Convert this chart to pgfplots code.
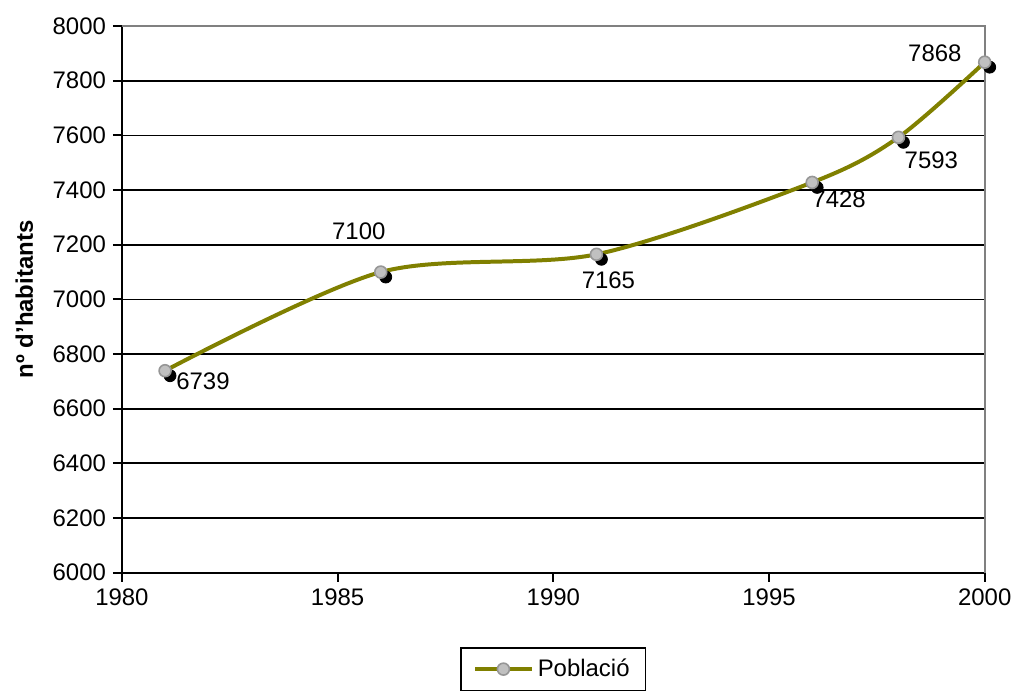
\documentclass[border={4.5pt 2pt 0pt 5.5pt}]{standalone}
\usepackage{fontspec}
\setmainfont{Liberation Sans}
\usepackage{pgfplots}
\usepackage{pgfplotstable}
\pgfplotsset{compat=1.18}
\definecolor{olivel}{RGB}{128,128,0}
\definecolor{markgray}{RGB}{192,192,192}
\definecolor{markedge}{RGB}{150,150,150}

% year, population, label offset (pt)
\pgfplotstableread{
year pop dx dy
1981 6739 19 -5.5
1986 7100 -11 20.5
1991 7165 6 -13
1996 7428 13.5 -8.5
1998 7593 16.5 -11.5
2000 7868 -25 4.5
}\poblacio

\begin{document}
\begin{tikzpicture}
\begin{axis}[
  scale only axis,
  width=432.5pt, height=274pt,
  xmin=1980, xmax=2000, ymin=6000, ymax=8000,
  xtick={1980,1985,...,2000},
  ytick={6000,6200,...,8000},
  axis x line*=bottom, axis y line*=left,
  axis line style={black, line width=1pt},
  tick align=outside, major tick length=4.5pt,
  tick style={black, line width=1pt},
  ymajorgrids=true,
  grid style={black, line width=0.9pt},
  font=\fontsize{12}{14.4}\selectfont,
  /pgf/number format/assume math mode=true,
  xticklabel style={/pgf/number format/1000 sep={}},
  yticklabel style={/pgf/number format/1000 sep={}},
  ylabel={\bfseries nº d'habitants},
  ylabel style={at={(axis description cs:-0.113,0.5)}, anchor=center},
  legend style={at={(axis description cs:0.5,-0.136)}, anchor=north,
    draw=black, line width=0.8pt, font=\fontsize{12}{14.4}\selectfont,
    inner xsep=6pt, inner ysep=3.5pt},
  legend cell align=left,
  legend image code/.code={
    \draw[mark repeat=2, mark phase=2]
      plot coordinates {(0cm,0cm) (0.5cm,0cm) (1cm,0cm)};},
  clip=false,
]
% shadows
\addplot[only marks, mark=*, mark size=3pt,
  mark options={fill=black, draw=black, xshift=2.5pt, yshift=-2.5pt},
  forget plot] table[x=year, y=pop] {\poblacio};
% line
\addplot[olivel, line width=2pt, smooth, tension=0.5, mark=*, mark size=3pt,
  mark options={fill=markgray, draw=markedge, line width=0.8pt}]
  table[x=year, y=pop] {\poblacio};
\addlegendentry{Població}
% labels
\addplot[only marks, mark=none, forget plot,
  visualization depends on={\thisrow{dx} \as \dx},
  visualization depends on={\thisrow{dy} \as \dy},
  point meta=explicit symbolic,
  nodes near coords,
  nodes near coords style={anchor=center, xshift=\dx pt, yshift=\dy pt, text=black,
    font=\fontsize{12}{14.4}\selectfont}]
  table[x=year, y=pop, meta=pop] {\poblacio};
\draw[gray, line width=1pt] (rel axis cs:0,1) -- (rel axis cs:1,1) -- (rel axis cs:1,0);
\end{axis}
\end{tikzpicture}
\end{document}
